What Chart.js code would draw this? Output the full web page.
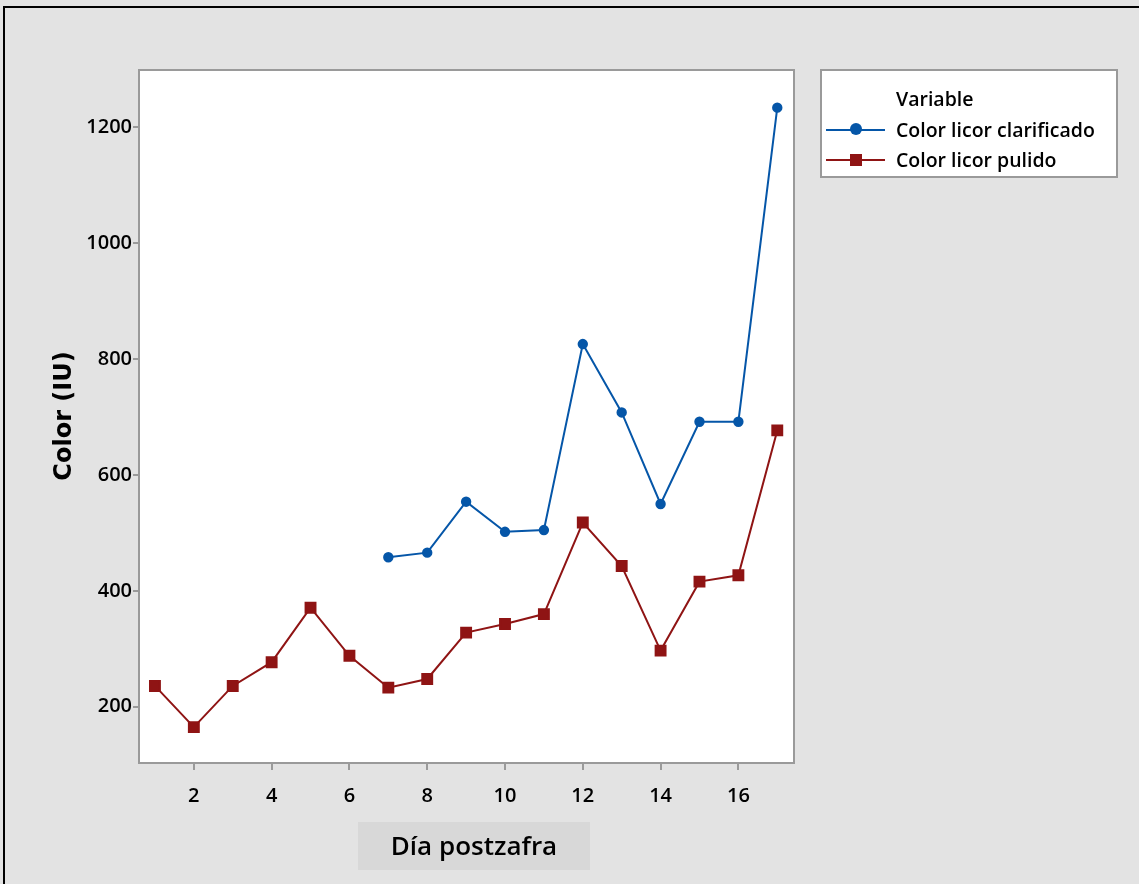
<!DOCTYPE html>
<html>
<head>
<meta charset="utf-8">
<script src="https://cdn.jsdelivr.net/npm/chart.js@4.4.1/dist/chart.umd.min.js"></script>
<style>
  html, body { margin: 0; padding: 0; background: #e3e3e3; }
  #wrap { width: 1139px; height: 884px; position: relative; }
</style>
</head>
<body>
<div id="wrap"><canvas id="c" width="1139" height="884"></canvas></div>
<script>
// Days after harvest and measured colour (IU)
const diasPulido = [1, 2, 3, 4, 5, 6, 7, 8, 9, 10, 11, 12, 13, 14, 15, 16, 17];
const colorPulido = [236, 165, 236, 277, 371, 288, 233, 248, 328, 343, 360, 518, 443, 297, 416, 427, 677];
const diasClarificado = [7, 8, 9, 10, 11, 12, 13, 14, 15, 16, 17];
const colorClarificado = [458, 466, 554, 502, 505, 826, 708, 550, 692, 692, 1234];

const xTicks = [2, 4, 6, 8, 10, 12, 14, 16];
const yTicks = [200, 400, 600, 800, 1000, 1200];

const nombreClarificado = 'Color licor clarificado';
const nombrePulido = 'Color licor pulido';
const tituloLeyenda = 'Variable';
const tituloX = 'Día postzafra';
const tituloY = 'Color (IU)';

const AZUL = '#0556a8';
const ROJO = '#8f1414';
const FONT = '"Open Sans", "Noto Sans", sans-serif';

const toPoints = (xs, ys) => xs.map((x, i) => ({ x: x, y: ys[i] }));

// Frame, plot box, axis titles and legend panel
const decor = {
  id: 'decor',
  beforeDraw(chart) {
    const ctx = chart.ctx;
    ctx.save();
    ctx.fillStyle = '#e3e3e3';
    ctx.fillRect(0, 0, chart.width, chart.height);
    // outer frame
    ctx.strokeStyle = '#000';
    ctx.lineWidth = 2;
    ctx.beginPath();
    ctx.moveTo(4, chart.height);
    ctx.lineTo(4, 7);
    ctx.lineTo(chart.width, 7);
    ctx.stroke();
    // plot area
    const a = chart.chartArea;
    ctx.fillStyle = '#fff';
    ctx.fillRect(a.left, a.top, a.right - a.left, a.bottom - a.top);
    ctx.restore();
  },
  afterDraw(chart) {
    const ctx = chart.ctx;
    const a = chart.chartArea;
    ctx.save();
    ctx.strokeStyle = '#9a9a9a';
    ctx.lineWidth = 2;
    ctx.strokeRect(a.left, a.top, a.right - a.left, a.bottom - a.top);

    // x title on its shaded band
    ctx.fillStyle = '#d8d8d8';
    ctx.fillRect(358, 822, 232, 48);
    ctx.fillStyle = '#000';
    ctx.font = '600 26px ' + FONT;
    ctx.textAlign = 'center';
    ctx.textBaseline = 'middle';
    ctx.fillText(tituloX, 474, 848);

    // y title
    ctx.save();
    ctx.translate(65, 416);
    ctx.rotate(-Math.PI / 2);
    ctx.font = 'bold 24px "DejaVu Sans", sans-serif';
    ctx.fillText(tituloY, 0, 0);
    ctx.restore();

    // legend panel
    const lx = 821, ly = 70, lw = 296, lh = 107;
    ctx.fillStyle = '#fff';
    ctx.fillRect(lx, ly, lw, lh);
    ctx.strokeStyle = '#9a9a9a';
    ctx.lineWidth = 2;
    ctx.strokeRect(lx, ly, lw, lh);
    ctx.fillStyle = '#000';
    ctx.textAlign = 'left';
    ctx.font = '600 19.5px ' + FONT;
    ctx.fillText(tituloLeyenda, 896, 100);
    const rows = [
      { ds: chart.data.datasets[0], y: 130 },
      { ds: chart.data.datasets[1], y: 160 }
    ];
    rows.forEach(r => {
      ctx.strokeStyle = r.ds.borderColor;
      ctx.lineWidth = 2;
      ctx.beginPath();
      ctx.moveTo(826, r.y);
      ctx.lineTo(885, r.y);
      ctx.stroke();
      ctx.fillStyle = r.ds.pointBackgroundColor;
      if (r.ds.pointStyle === 'rect') {
        ctx.fillRect(850, r.y - 6, 12, 12);
      } else {
        ctx.beginPath();
        ctx.arc(856, r.y - 1, 6, 0, Math.PI * 2);
        ctx.fill();
      }
      ctx.fillStyle = '#000';
      ctx.fillText(r.ds.label, 896, r.y + 1);
    });
    ctx.restore();
  }
};

new Chart(document.getElementById('c'), {
  type: 'line',
  data: {
    datasets: [
      {
        label: nombreClarificado,
        data: toPoints(diasClarificado, colorClarificado),
        borderColor: AZUL,
        backgroundColor: AZUL,
        pointBackgroundColor: AZUL,
        pointBorderColor: AZUL,
        pointStyle: 'circle',
        pointRadius: 4.2,
        borderWidth: 2,
        tension: 0
      },
      {
        label: nombrePulido,
        data: toPoints(diasPulido, colorPulido),
        borderColor: ROJO,
        backgroundColor: ROJO,
        pointBackgroundColor: ROJO,
        pointBorderColor: ROJO,
        pointStyle: 'rect',
        pointRadius: 7,
        borderWidth: 2,
        tension: 0
      }
    ]
  },
  options: {
    responsive: false,
    animation: false,
    devicePixelRatio: 1,
    layout: { padding: { left: 0, top: 70, right: 345, bottom: 0 } },
    plugins: {
      legend: { display: false },
      tooltip: { enabled: false }
    },
    scales: {
      x: {
        type: 'linear',
        min: 0.59,
        max: 17.43,
        afterFit(s) { s.height = 121; },
        afterBuildTicks(s) { s.ticks = xTicks.map(v => ({ value: v })); },
        grid: { drawOnChartArea: false, color: '#9a9a9a', tickLength: 7, lineWidth: 2 },
        border: { display: false },
        ticks: {
          color: '#000',
          font: { family: FONT, size: 20, weight: '600' },
          padding: 14,
          maxRotation: 0,
          callback: v => String(v)
        }
      },
      y: {
        type: 'linear',
        min: 103,
        max: 1299,
        afterFit(s) { s.width = 139; },
        afterBuildTicks(s) { s.ticks = yTicks.map(v => ({ value: v })); },
        grid: { drawOnChartArea: false, color: '#9a9a9a', tickLength: 6, lineWidth: 2 },
        border: { display: false },
        ticks: {
          color: '#000',
          font: { family: FONT, size: 20, weight: '600' },
          padding: 1,
          callback: v => String(v)
        }
      }
    }
  },
  plugins: [decor]
});
</script>
</body>
</html>
